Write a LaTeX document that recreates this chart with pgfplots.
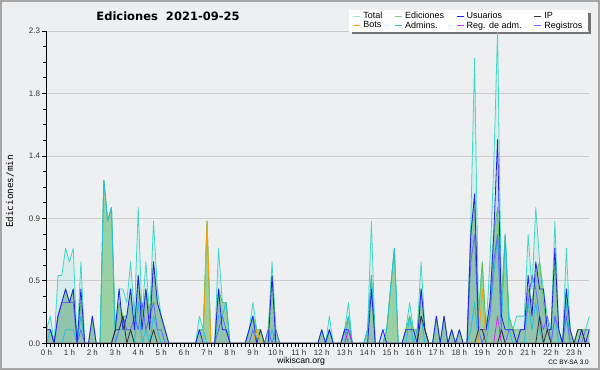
\documentclass[border=0pt]{standalone}
\usepackage{pgfplots}
\pgfplotsset{compat=1.18}
\usepackage{pgfplotstable}
\usepackage{fontspec}
\setmainfont{Liberation Sans}
\newfontfamily\titlefont{DejaVu Sans}
\newfontfamily\ylabfont{DejaVu Sans Mono}
\usetikzlibrary{backgrounds,calc}

\definecolor{bgc}{HTML}{EEEFF1}
\definecolor{cTotal}{HTML}{40D8C8}
\definecolor{cEd}{HTML}{5CC45C}
\definecolor{cEdFill}{HTML}{5FB85F}
\definecolor{cUsr}{HTML}{2020F0}
\definecolor{cIP}{HTML}{333333}
\definecolor{cBot}{HTML}{FFA000}
\definecolor{cAdm}{HTML}{20C0E0}
\definecolor{cRA}{HTML}{CC33EE}
\definecolor{cReg}{HTML}{6666FF}
\definecolor{gridc}{HTML}{CCCCCC}

\pgfplotstableread{
i T E U I B A R L
0 0.1 0.1 0.1 0 0 0 0 0.1
1 0.2 0.1 0.1 0 0 0.1 0 0.1
2 0 0 0 0 0 0 0 0
3 0.5 0.2 0.2 0 0 0 0 0.2
4 0.5 0.3 0.3 0 0 0 0 0.3
5 0.7 0.4 0.4 0 0 0.1 0 0.3
6 0.6 0.3 0.3 0 0 0.1 0 0.3
7 0.7 0.4 0.4 0 0 0.1 0 0.3
8 0 0 0 0 0 0 0 0
9 0.6 0.3 0.4 0 0 0.2 0 0.1
10 0 0 0 0 0 0 0 0
11 0 0 0 0 0 0 0 0
12 0.2 0.2 0.2 0 0 0 0 0
13 0 0 0 0 0 0 0 0
14 0 0 0 0 0 0 0 0
15 1.2 1.2 0 0 0 1.2 0 0
16 0.9 0.9 0 0 0 0.9 0 0
17 1.0 1.0 0 0 0 1.0 0 0
18 0.1 0.1 0.1 0.1 0 0 0 0
19 0.4 0.3 0.4 0.1 0 0.1 0 0.1
20 0.4 0.2 0.1 0.2 0 0.1 0 0.2
21 0.3 0.2 0.2 0 0 0.1 0 0.1
22 0.6 0.4 0.4 0.1 0 0.1 0 0.1
23 0.2 0.1 0.1 0 0 0 0 0.2
24 1.0 0.5 0.5 0 0 0.3 0 0.1
25 0.2 0.2 0.1 0 0 0 0 0.3
26 0.6 0.4 0.4 0 0 0.1 0 0.1
27 0.2 0.2 0.1 0 0 0 0 0.2
28 0.9 0.6 0.6 0.1 0 0.2 0 0.3
29 0.4 0.3 0.3 0 0 0.1 0 0.1
30 0.2 0.2 0.2 0 0 0 0 0.1
31 0.1 0.1 0.1 0 0 0 0 0
32 0 0 0 0 0 0 0 0
33 0 0 0 0 0 0 0 0
34 0 0 0 0 0 0 0 0
35 0 0 0 0 0 0 0 0
36 0 0 0 0 0 0 0 0
37 0 0 0 0 0 0 0 0
38 0 0 0 0 0 0 0 0
39 0 0 0 0 0 0 0 0
40 0.2 0.1 0.1 0 0 0.1 0 0
41 0.1 0.1 0 0 0 0.1 0 0
42 0.9 0.9 0 0 0.9 0 0 0
43 0 0 0 0 0 0 0 0
44 0 0 0 0 0 0 0 0
45 0.7 0.4 0.4 0 0 0.2 0 0.1
46 0.3 0.3 0.1 0 0 0.2 0 0.2
47 0.3 0.3 0.1 0 0 0.3 0 0.1
48 0 0 0 0 0 0 0 0
49 0 0 0 0 0 0 0 0
50 0 0 0 0 0 0 0 0
51 0 0 0 0 0 0 0 0
52 0 0 0 0 0 0 0 0
53 0.1 0.1 0.1 0 0 0.1 0 0
54 0.3 0.2 0.2 0 0 0.2 0 0.1
55 0.1 0.1 0 0 0.1 0 0 0
56 0.1 0.1 0 0.1 0 0 0 0
57 0 0 0 0 0 0 0 0
58 0.1 0.1 0 0 0 0 0 0.1
59 0.6 0.5 0.5 0 0 0.1 0 0
60 0.1 0.1 0 0 0 0 0 0.1
61 0 0 0 0 0 0 0 0
62 0 0 0 0 0 0 0 0
63 0 0 0 0 0 0 0 0
64 0 0 0 0 0 0 0 0
65 0 0 0 0 0 0 0 0
66 0 0 0 0 0 0 0 0
67 0 0 0 0 0 0 0 0
68 0 0 0 0 0 0 0 0
69 0 0 0 0 0 0 0 0
70 0 0 0 0 0 0 0 0
71 0 0 0 0 0 0 0 0
72 0.1 0.1 0.1 0 0 0 0 0
73 0 0 0 0 0 0 0 0
74 0.2 0.1 0.1 0 0 0.1 0 0
75 0 0 0 0 0 0 0 0
76 0 0 0 0 0 0 0 0
77 0 0 0 0 0 0 0 0
78 0.1 0.1 0.1 0 0 0 0 0.1
79 0.3 0.2 0.1 0 0 0.2 0.1 0
80 0 0 0 0 0 0 0 0
81 0 0 0 0 0 0 0 0
82 0 0 0 0 0 0 0 0
83 0 0 0 0 0 0 0 0
84 0.1 0.1 0 0 0 0.1 0 0
85 0.9 0.5 0.4 0 0 0.5 0 0
86 0 0 0 0 0 0 0 0
87 0 0 0 0 0 0 0 0
88 0.1 0 0.1 0 0 0 0 0
89 0.1 0.1 0 0 0 0.1 0 0
90 0.4 0.4 0 0 0 0.4 0 0
91 0.7 0.7 0 0 0 0.7 0 0
92 0 0 0 0 0 0 0 0
93 0 0 0 0 0 0 0 0
94 0.1 0.1 0.1 0 0 0 0 0
95 0.3 0.2 0.1 0 0 0.2 0 0
96 0.1 0.1 0.1 0 0 0 0 0
97 0.1 0.1 0 0 0 0.1 0 0
98 0.6 0.4 0.4 0.2 0 0.2 0 0
99 0.1 0.1 0.1 0.1 0 0 0 0
100 0 0 0 0 0 0 0 0
101 0 0 0 0 0 0 0 0
102 0.2 0.2 0.2 0 0 0 0 0
103 0 0 0 0 0 0 0 0
104 0.2 0.2 0.2 0 0 0 0 0
105 0 0 0 0 0 0 0 0
106 0.1 0.1 0.1 0 0 0 0 0
107 0 0 0 0 0 0 0 0
108 0.1 0.1 0.1 0 0 0 0 0
109 0 0 0 0 0 0 0 0
110 0 0 0 0 0 0 0 0
111 0.9 0.8 0.8 0 0 0.1 0 0.6
112 2.1 1.1 1.1 0 0 0.3 0 0.8
113 0.2 0.2 0.1 0.1 0 0 0 0.1
114 0.6 0.6 0.1 0.1 0.4 0 0 0
115 0.1 0.1 0.1 0 0 0 0 0.1
116 0.6 0.3 0.3 0 0 0.2 0 0.2
117 1.3 0.8 0.8 0 0 0.5 0 0.6
118 2.3 1.0 1.5 0 0 0.8 0.2 0.8
119 0.3 0.3 0.2 0.1 0 0.1 0 0.1
120 0.8 0.8 0.1 0 0 0.8 0 0
121 0.2 0.2 0.1 0 0 0.1 0 0.1
122 0.1 0.1 0.1 0 0 0 0 0.1
123 0.2 0.1 0 0 0 0 0 0
124 0.2 0.1 0.1 0 0 0 0 0.1
125 0.2 0.1 0.1 0 0 0 0 0.1
126 0.8 0.4 0.5 0 0 0.3 0 0.3
127 0.4 0.3 0.2 0 0 0.1 0 0.5
128 1.0 0.5 0.6 0 0 0.3 0 0.4
129 0.6 0.6 0.4 0.2 0 0.1 0 0.2
130 0.4 0.3 0.4 0 0 0 0 0.1
131 0.2 0.1 0.1 0.1 0 0 0 0.2
132 0.1 0.1 0.1 0 0 0 0 0
133 0.9 0.6 0.7 0 0 0.2 0 0.2
134 0.1 0.1 0.1 0 0 0 0 0.1
135 0 0 0 0 0 0 0 0
136 0.7 0.4 0.4 0 0 0.3 0 0.2
137 0.1 0.1 0.1 0 0 0 0 0
138 0 0 0 0 0 0 0 0
139 0.1 0.1 0 0.1 0 0 0 0
140 0.1 0.1 0.1 0.1 0 0 0 0
141 0.1 0.1 0 0 0 0 0 0.1
142 0.2 0.1 0.1 0 0 0 0 0.1
}\data

\begin{document}
\begin{tikzpicture}
\path[use as bounding box] (0pt,0pt) rectangle (600pt,370pt);
\begin{pgfonlayer}{background}
\fill[bgc] (0pt,0pt) rectangle (600pt,370pt);
\draw[black!35, line width=1.6pt] (0.8pt,0.8pt) rectangle (599.2pt,369.2pt);
\end{pgfonlayer}
\begin{axis}[
  at={(46.5pt,26.7pt)}, anchor=south west,
  scale only axis, width=542.8pt, height=312.3pt,
  xmin=0, xmax=142, ymin=0, ymax=2.3,
  axis x line*=bottom, axis y line*=left,
  axis line style={black, line width=0.9pt, -},
  xtick={0,6,...,138},
  xticklabels={0 h,1 h,2 h,3 h,4 h,5 h,6 h,7 h,8 h,9 h,10 h,11 h,12 h,13 h,14 h,15 h,16 h,17 h,18 h,19 h,20 h,21 h,22 h,23 h},
  minor xtick={0,1,...,142},
  ytick={0,0.46,0.92,1.38,1.84,2.3},
  yticklabels={0.0,0.5,0.9,1.4,1.8,2.3},
  minor ytick={0.115,0.23,0.345,0.575,0.69,0.805,1.035,1.15,1.265,1.495,1.61,1.725,1.955,2.07,2.185},
  tick align=outside,
  major tick length=4pt, minor tick length=3.5pt,
  tick style={black, line width=0.7pt},
  ymajorgrids, grid style={gridc, line width=0.8pt},
  ticklabel style={font=\fontsize{8}{9}\selectfont, text=black!80},
  xticklabel style={yshift=1.5pt},
  yticklabel style={xshift=1pt},
  clip=false,
  legend columns=4,
  legend cell align=left,
  legend image code/.code={\draw[#1, line width=0.7pt] (0pt,0pt) -- (7pt,0pt);},
  legend style={at={(0.9976,1.067)}, anchor=north east, name=leg,
    font=\fontsize{9}{9.5}\selectfont, draw=none, fill=white,
    inner xsep=4pt, inner ysep=1.5pt,
    nodes={inner xsep=1.5pt, inner ysep=0.6pt},
    /tikz/every odd column/.append style={column sep=1pt},
    /tikz/every even column/.append style={column sep=11pt}},
]
% fills
\addplot[fill=cTotal, fill opacity=0.13, draw=none, forget plot] table[x=i,y=T]{\data} \closedcycle;
\addplot[fill=cEdFill, fill opacity=0.5, draw=none, forget plot] table[x=i,y=E]{\data} \closedcycle;
\addplot[fill=blue!70, fill opacity=0.1, draw=none, forget plot] table[x=i,y=U]{\data} \closedcycle;
% lines
\addplot[cTotal, line width=0.8pt, line join=round, forget plot] table[x=i,y=T]{\data};
\addplot[cEd, line width=0.8pt, line join=round, forget plot] table[x=i,y=E]{\data};
\addplot[cAdm, line width=0.8pt, line join=round, forget plot] table[x=i,y=A]{\data};
\addplot[cReg, line width=0.8pt, line join=round, forget plot] table[x=i,y=L]{\data};
\addplot[cUsr, line width=0.8pt, line join=round, forget plot] table[x=i,y=U]{\data};
\addplot[cRA, line width=0.8pt, line join=round, forget plot] table[x=i,y=R]{\data};
\addplot[cIP, line width=0.8pt, line join=round, forget plot] table[x=i,y=I]{\data};
\addplot[cBot, line width=0.8pt, line join=round, forget plot] table[x=i,y=B]{\data};
% axis lines on top
\draw[black, line width=0.9pt] (rel axis cs:0,0) -- (rel axis cs:1,0);
\draw[black, line width=0.9pt] (rel axis cs:0,0) -- (rel axis cs:0,1);
% legend
\addlegendimage{cTotal!60}\addlegendentry{Total}
\addlegendimage{cEd!80}\addlegendentry{Ediciones}
\addlegendimage{cUsr}\addlegendentry{Usuarios}
\addlegendimage{cIP}\addlegendentry{IP}
\addlegendimage{cBot}\addlegendentry{Bots}
\addlegendimage{cAdm}\addlegendentry{Admins.}
\addlegendimage{cRA}\addlegendentry{Reg. de adm.}
\addlegendimage{cReg}\addlegendentry{Registros}
\end{axis}
\begin{pgfonlayer}{background}
\fill[black!55] ($(leg.south west)+(3pt,-2.5pt)$) rectangle ($(leg.north east)+(3pt,-2.5pt)$);
\end{pgfonlayer}
\node[anchor=base] at (168pt,349pt) {\titlefont\bfseries\fontsize{11.5}{13}\selectfont Ediciones\hspace{0.7em}2021-09-25};
\node[rotate=90] at (10pt,178.5pt) {\ylabfont\fontsize{9.3}{10}\selectfont Ediciones/min};
\node at (301pt,9pt) {\fontsize{8.7}{10}\selectfont wikiscan.org};
\node at (568.5pt,8pt) {\fontsize{6.4}{7}\selectfont CC BY-SA 3.0};
\end{tikzpicture}
\end{document}
